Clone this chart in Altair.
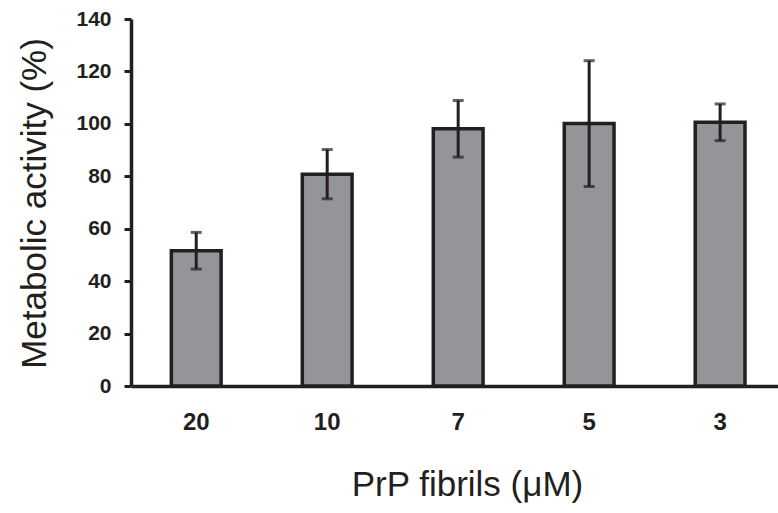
import altair as alt
import pandas as pd

concentrations = ["20", "10", "7", "5", "3"]
activity = [51.6, 80.8, 98.1, 100.1, 100.6]
errors = [7.0, 9.4, 10.8, 24.0, 7.0]

df = pd.DataFrame({"conc": concentrations, "mean": activity, "err": errors})
df["lo"] = df["mean"] - df["err"]
df["hi"] = df["mean"] + df["err"]

ink = "#231f20"

xenc = alt.X(
    "conc:N",
    sort=None,
    scale=alt.Scale(paddingInner=0.62, paddingOuter=0.28, align=0.55),
    axis=alt.Axis(
        title="PrP fibrils (μM)",
        labelAngle=0,
        ticks=False,
        labelPadding=24,
        labelFontSize=24,
        labelFontWeight="bold",
        labelFont="Liberation Sans",
        labelColor=ink,
        domainColor=ink,
        domainWidth=3.5,
        titleFont="Liberation Sans",
        titleFontSize=35,
        titleFontWeight="normal",
        titleColor=ink,
        titleX=336,
        titleY=98,
        titleBaseline="middle",
        titleAlign="center",
    ),
)

yscale = alt.Scale(domain=[0, 140], nice=False)

bars = alt.Chart(df).mark_bar(
    color="#939598", stroke=ink, strokeWidth=3.5
).encode(
    x=xenc,
    y=alt.Y(
        "mean:Q",
        scale=yscale,
        axis=alt.Axis(
            title="Metabolic activity (%)",
            values=[0, 20, 40, 60, 80, 100, 120, 140],
            grid=False,
            tickSize=7,
            tickWidth=3,
            tickColor=ink,
            domainColor=ink,
            domainWidth=3.5,
            labelPadding=13,
            labelFontSize=21,
            labelFontWeight="bold",
            labelFont="Liberation Sans",
            labelColor=ink,
            titleFont="Liberation Sans",
            titleFontSize=35,
            titleFontWeight="normal",
            titleColor=ink,
            titleX=-86,
            titleY=184,
            titleAlign="center",
            titleBaseline="alphabetic",
        ),
    ),
)

rules = alt.Chart(df).mark_rule(color=ink, strokeWidth=3).encode(
    x=alt.X("conc:N", sort=None),
    y=alt.Y("lo:Q", scale=yscale),
    y2="hi:Q",
)

caps_hi = alt.Chart(df).mark_tick(color=ink, size=11, thickness=3, orient="horizontal").encode(
    x=alt.X("conc:N", sort=None),
    y=alt.Y("hi:Q", scale=yscale),
)
caps_lo = alt.Chart(df).mark_tick(color=ink, size=11, thickness=3, orient="horizontal").encode(
    x=alt.X("conc:N", sort=None),
    y=alt.Y("lo:Q", scale=yscale),
)

chart = alt.layer(bars, rules, caps_hi, caps_lo).properties(
    width=647,
    height=367,
    autosize=alt.AutoSizeParams(type="none"),
    padding={"left": 131, "top": 19, "right": 0, "bottom": 127},
    background="white",
).configure_view(stroke=None)

chart.save("out.html", embed_options={"renderer": "svg", "actions": False})
